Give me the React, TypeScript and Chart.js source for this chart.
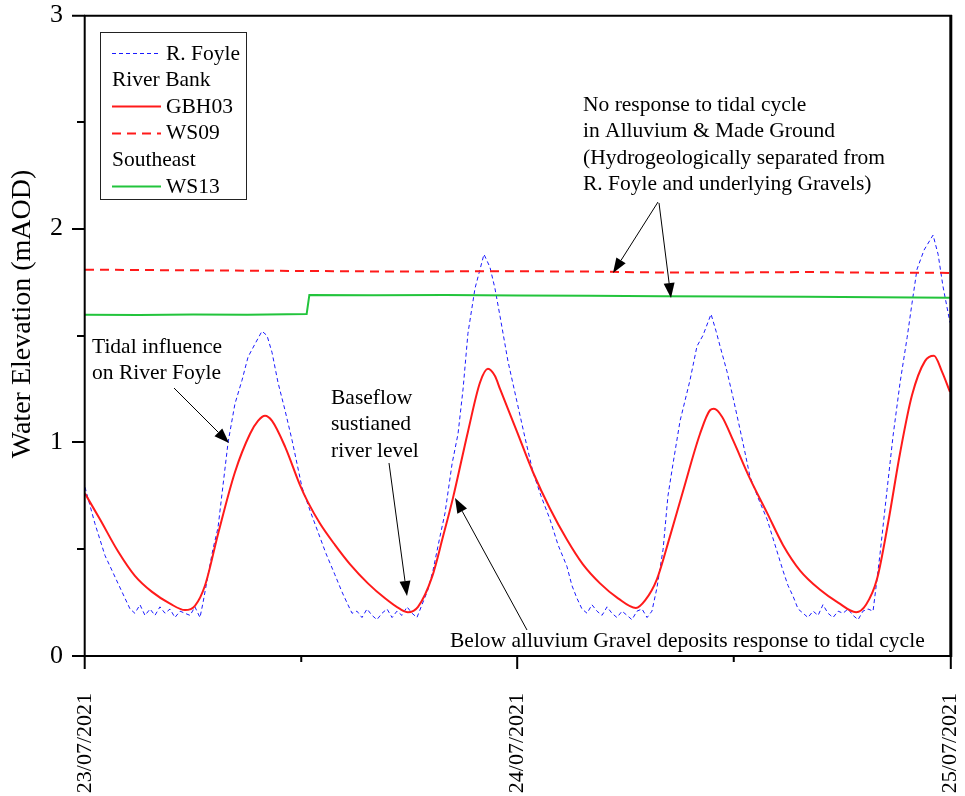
import React, { useEffect, useRef } from 'react';
import { Chart, registerables } from 'chart.js';
Chart.register(...registerables);

// Hours since 23/07/2021 00:00
const foyleHours = [0, 0.55, 1.11, 1.5, 1.83, 2.22, 2.5, 2.77, 3.05, 3.33, 3.61, 3.88, 4.16, 4.44, 4.72, 4.99, 5.27, 5.55, 5.83, 6.1, 6.38, 6.55, 6.83, 7.1, 7.38, 7.66, 7.94, 8.32, 8.71, 9.05, 9.43, 9.82, 10.1, 10.38, 10.71, 11.1, 11.49, 12.04, 12.49, 12.93, 13.37, 13.87, 14.26, 14.59, 14.82, 15.09, 15.37, 15.65, 15.93, 16.2, 16.48, 16.76, 17.04, 17.31, 17.59, 17.87, 18.15, 18.42, 18.7, 19.03, 19.31, 19.7, 19.98, 20.37, 20.7, 20.98, 21.25, 21.64, 22.14, 22.47, 22.75, 23.03, 23.47, 23.97, 24.42, 24.86, 25.3, 25.8, 26.25, 26.74, 27.02, 27.3, 27.58, 27.86, 28.13, 28.41, 28.69, 28.97, 29.24, 29.52, 29.8, 30.08, 30.35, 30.63, 30.91, 31.19, 31.46, 31.74, 32.08, 32.35, 32.63, 33.02, 33.57, 33.96, 34.29, 34.74, 35.02, 35.24, 35.63, 35.96, 36.35, 36.63, 36.9, 37.35, 37.85, 38.29, 38.73, 39.01, 39.29, 39.57, 39.85, 40.12, 40.4, 40.68, 40.95, 41.23, 41.51, 41.79, 42.06, 42.34, 42.62, 42.9, 43.17, 43.45, 43.73, 43.95, 44.12, 44.51, 44.84, 45.23, 45.62, 45.89, 46.17, 46.56, 47.06, 47.34, 47.61, 48];
const foyleLevels = [0.79, 0.62, 0.47, 0.4, 0.34, 0.27, 0.22, 0.2, 0.24, 0.19, 0.22, 0.19, 0.23, 0.2, 0.22, 0.18, 0.21, 0.2, 0.19, 0.23, 0.18, 0.25, 0.38, 0.5, 0.6, 0.8, 1.0, 1.18, 1.29, 1.4, 1.46, 1.52, 1.5, 1.42, 1.28, 1.15, 1.01, 0.79, 0.68, 0.58, 0.48, 0.38, 0.3, 0.24, 0.2, 0.21, 0.18, 0.22, 0.19, 0.17, 0.2, 0.22, 0.18, 0.21, 0.19, 0.23, 0.2, 0.18, 0.24, 0.31, 0.4, 0.56, 0.67, 0.9, 1.04, 1.25, 1.51, 1.72, 1.88, 1.82, 1.72, 1.59, 1.38, 1.19, 1.02, 0.86, 0.75, 0.64, 0.52, 0.42, 0.33, 0.27, 0.22, 0.2, 0.24, 0.21, 0.19, 0.23, 0.2, 0.18, 0.21, 0.19, 0.17, 0.21, 0.22, 0.18, 0.21, 0.32, 0.5, 0.75, 0.9, 1.1, 1.29, 1.45, 1.5, 1.6, 1.52, 1.45, 1.33, 1.21, 1.06, 0.95, 0.84, 0.74, 0.64, 0.52, 0.4, 0.33, 0.28, 0.22, 0.2, 0.18, 0.21, 0.19, 0.24, 0.2, 0.18, 0.21, 0.2, 0.22, 0.19, 0.17, 0.21, 0.22, 0.21, 0.36, 0.48, 0.78, 1.03, 1.28, 1.49, 1.65, 1.81, 1.9, 1.97, 1.88, 1.73, 1.56];

const gbh03Hours = [0, 0.83, 1.83, 2.77, 3.72, 4.72, 5.55, 6.1, 6.66, 7.38, 8.32, 9.16, 9.6, 9.99, 10.38, 11.1, 11.93, 12.37, 13.04, 13.87, 14.7, 15.7, 16.65, 17.48, 17.92, 18.48, 19.26, 19.87, 20.42, 21.25, 21.92, 22.36, 22.75, 23.03, 23.97, 24.86, 25.8, 26.74, 27.62, 28.58, 29.58, 30.57, 31.08, 31.74, 32.46, 33.18, 34.13, 34.68, 34.9, 35.35, 35.96, 36.9, 37.85, 38.73, 39.68, 40.79, 41.79, 42.79, 43.34, 43.95, 44.56, 45.23, 45.89, 46.61, 47.11, 47.56, 48];
const gbh03Levels = [0.76, 0.64, 0.49, 0.375, 0.3, 0.245, 0.215, 0.235, 0.33, 0.57, 0.86, 1.04, 1.1, 1.124, 1.1, 0.98, 0.8, 0.72, 0.62, 0.52, 0.43, 0.34, 0.27, 0.22, 0.205, 0.23, 0.37, 0.56, 0.74, 1.05, 1.28, 1.344, 1.31, 1.25, 1.05, 0.86, 0.69, 0.545, 0.43, 0.34, 0.27, 0.225, 0.26, 0.36, 0.56, 0.77, 1.04, 1.15, 1.157, 1.12, 1.01, 0.83, 0.67, 0.52, 0.4, 0.31, 0.25, 0.205, 0.24, 0.36, 0.62, 0.95, 1.22, 1.38, 1.405, 1.33, 1.236];

const ws09Hours = [0, 4, 8, 12, 16, 20, 24, 28, 32, 36, 40, 44, 48];
const ws09Levels = [1.808, 1.806, 1.804, 1.802, 1.8, 1.8, 1.801, 1.799, 1.795, 1.795, 1.797, 1.794, 1.793];

const ws13Hours = [0, 3, 6, 9, 12.3, 12.45, 16, 20, 24, 28, 32, 36, 40, 44, 48];
const ws13Levels = [1.597, 1.596, 1.598, 1.597, 1.601, 1.69, 1.688, 1.689, 1.687, 1.686, 1.684, 1.683, 1.681, 1.679, 1.677];

const xTickHours = [0, 24, 48];
const xTickLabels = ['23/07/2021', '24/07/2021', '25/07/2021'];
const xMinorHours = [12, 36];
const yTickValues = [0, 1, 2, 3];
const yTickLabels = ['0', '1', '2', '3'];
const yMinorValues = [0.5, 1.5, 2.5];

const SERIF = '"Liberation Serif", "Times New Roman", serif';
const BLUE = '#1a1aff';
const RED = '#ff1a1a';
const GREEN = '#22c43c';

function pts(hs: number[], vs: number[]) {
  return hs.map((h, i) => ({ x: h, y: vs[i] }));
}

function arrow(ctx: CanvasRenderingContext2D, x1: number, y1: number, x2: number, y2: number) {
  const ang = Math.atan2(y2 - y1, x2 - x1);
  const len = 15, hw = 5.5;
  const bx = x2 - len * Math.cos(ang), by = y2 - len * Math.sin(ang);
  ctx.save();
  ctx.strokeStyle = '#000';
  ctx.fillStyle = '#000';
  ctx.lineWidth = 1;
  ctx.beginPath();
  ctx.moveTo(x1, y1);
  ctx.lineTo(bx, by);
  ctx.stroke();
  ctx.beginPath();
  ctx.moveTo(x2, y2);
  ctx.lineTo(bx + hw * Math.sin(ang), by - hw * Math.cos(ang));
  ctx.lineTo(bx - hw * Math.sin(ang), by + hw * Math.cos(ang));
  ctx.closePath();
  ctx.fill();
  ctx.restore();
}

const decor = {
  id: 'decor',
  afterDraw(chart: any) {
    const ctx: CanvasRenderingContext2D = chart.ctx;
    const ca = chart.chartArea;
    const xs = chart.scales.x, ys = chart.scales.y;
    ctx.save();
    ctx.strokeStyle = '#000';
    // frame
    ctx.lineWidth = 2;
    ctx.beginPath();
    ctx.moveTo(ca.left - 0.3, ca.top + 0.7);
    ctx.lineTo(ca.left - 0.3, ca.bottom);
    ctx.moveTo(ca.left - 1, ca.bottom);
    ctx.lineTo(ca.right + 2, ca.bottom);
    ctx.moveTo(ca.left - 1, ca.top + 0.7);
    ctx.lineTo(ca.right + 2, ca.top + 0.7);
    ctx.stroke();
    ctx.lineWidth = 3;
    ctx.beginPath();
    ctx.moveTo(ca.right + 0.8, ca.top);
    ctx.lineTo(ca.right + 0.8, ca.bottom + 1);
    ctx.stroke();
    // ticks
    ctx.lineWidth = 2;
    ctx.beginPath();
    yTickValues.forEach(v => {
      const y = Math.round(ys.getPixelForValue(v)) + (v === 3 ? 0.7 : 0);
      ctx.moveTo(ca.left - 13, y);
      ctx.lineTo(ca.left, y);
    });
    yMinorValues.forEach(v => {
      const y = Math.round(ys.getPixelForValue(v));
      ctx.moveTo(ca.left - 8, y);
      ctx.lineTo(ca.left, y);
    });
    xTickHours.forEach(h => {
      const x = xs.getPixelForValue(h) - (h === 48 ? -0.8 : 0.3);
      ctx.moveTo(x, ca.bottom);
      ctx.lineTo(x, ca.bottom + 13);
    });
    xMinorHours.forEach(h => {
      const x = xs.getPixelForValue(h);
      ctx.moveTo(x, ca.bottom);
      ctx.lineTo(x, ca.bottom + 6);
    });
    ctx.stroke();
    // y tick labels
    ctx.fillStyle = '#000';
    ctx.font = `26px ${SERIF}`;
    ctx.textAlign = 'right';
    ctx.textBaseline = 'middle';
    yTickValues.forEach((v, i) => {
      ctx.fillText(yTickLabels[i], ca.left - 22, ys.getPixelForValue(v));
    });
    // x tick labels
    ctx.font = `22px ${SERIF}`;
    xTickHours.forEach((h, i) => {
      ctx.save();
      ctx.translate(xs.getPixelForValue(h), ca.bottom + 37);
      ctx.rotate(-Math.PI / 2);
      ctx.textAlign = 'right';
      ctx.textBaseline = 'middle';
      ctx.fillText(xTickLabels[i], 0, 0);
      ctx.restore();
    });
    // y title
    ctx.save();
    ctx.font = `28px ${SERIF}`;
    ctx.translate(23, 314);
    ctx.rotate(-Math.PI / 2);
    ctx.textAlign = 'center';
    ctx.textBaseline = 'middle';
    ctx.fillText('Water Elevation (mAOD)', 0, 0);
    ctx.restore();

    // legend
    ctx.lineWidth = 1;
    ctx.strokeStyle = '#222';
    ctx.strokeRect(100.5, 32.5, 146, 167);
    ctx.font = `21.5px ${SERIF}`;
    ctx.textAlign = 'left';
    ctx.textBaseline = 'middle';
    const rows: any[] = [
      { t: 'R. Foyle', c: BLUE, w: 1, d: [4, 3] },
      { t: 'River Bank' },
      { t: 'GBH03', c: RED, w: 2, d: [] },
      { t: 'WS09', c: RED, w: 2, d: [9, 6] },
      { t: 'Southeast' },
      { t: 'WS13', c: GREEN, w: 2, d: [] },
    ];
    rows.forEach((r, i) => {
      const y = 53 + i * 26.6;
      if (r.c) {
        ctx.save();
        ctx.strokeStyle = r.c;
        ctx.lineWidth = r.w;
        ctx.setLineDash(r.d);
        ctx.beginPath();
        ctx.moveTo(112, Math.round(y) + 0.5);
        ctx.lineTo(161, Math.round(y) + 0.5);
        ctx.stroke();
        ctx.restore();
        ctx.fillText(r.t, 166, y + 1);
      } else {
        ctx.fillText(r.t, 112, y + 1);
      }
    });

    // annotations
    const lines1 = ['No response to tidal cycle', 'in Alluvium & Made Ground', '(Hydrogeologically separated from', 'R. Foyle and underlying Gravels)'];
    lines1.forEach((t, i) => ctx.fillText(t, 583, 105 + i * 26.6));
    arrow(ctx, 658, 202, 613, 273);
    arrow(ctx, 659, 203, 671, 298);

    ['Tidal influence', 'on River Foyle'].forEach((t, i) => ctx.fillText(t, 92, 347 + i * 26.4));
    arrow(ctx, 174, 388, 229, 443);

    ['Baseflow', 'sustianed', 'river level'].forEach((t, i) => ctx.fillText(t, 331, 398 + i * 26.6));
    arrow(ctx, 389, 463, 407, 596);

    ctx.fillText('Below alluvium Gravel deposits response to tidal cycle', 450, 641);
    arrow(ctx, 527, 630, 455, 498);
    ctx.restore();
  },
};

export default function App() {
  const ref = useRef<HTMLCanvasElement | null>(null);
  useEffect(() => {
    if (!ref.current) return;
    const chart = new Chart(ref.current, {
      type: 'line',
      data: {
        datasets: [
          { label: 'WS13', data: pts(ws13Hours, ws13Levels), borderColor: GREEN, borderWidth: 2, pointRadius: 0, tension: 0 },
          { label: 'WS09', data: pts(ws09Hours, ws09Levels), borderColor: RED, borderWidth: 2, borderDash: [9, 6], pointRadius: 0, tension: 0 },
          { label: 'GBH03', data: pts(gbh03Hours, gbh03Levels), borderColor: RED, borderWidth: 2, pointRadius: 0, cubicInterpolationMode: 'monotone' },
          { label: 'R. Foyle', data: pts(foyleHours, foyleLevels), borderColor: BLUE, borderWidth: 1, borderDash: [4, 3], pointRadius: 0, tension: 0 },
        ] as any,
      },
      options: {
        responsive: false,
        devicePixelRatio: 1,
        animation: false,
        layout: { padding: { left: 85, right: 15, top: 15, bottom: 140 } },
        plugins: { legend: { display: false }, tooltip: { enabled: false } },
        scales: {
          x: { type: 'linear', min: 0, max: 48, display: false },
          y: { type: 'linear', min: 0, max: 3, display: false },
        },
      },
      plugins: [decor],
    });
    return () => chart.destroy();
  }, []);
  return (
    <div style={{ position: 'absolute', left: 0, top: 0, width: 965, height: 796, background: '#fff' }}>
      <canvas ref={ref} width={965} height={796} style={{ display: 'block' }} />
    </div>
  );
}
